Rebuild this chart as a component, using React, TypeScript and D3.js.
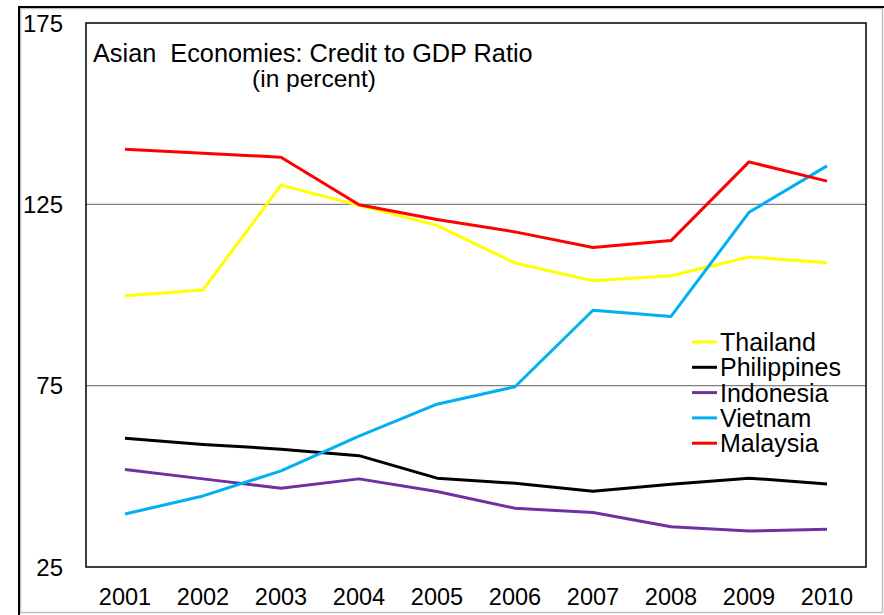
import React from "react";
import * as d3 from "d3";

const years = ["2001", "2002", "2003", "2004", "2005", "2006", "2007", "2008", "2009", "2010"];
const yTicks = [25, 75, 125, 175];
const thailand = [99.8, 101.4, 130.3, 124.7, 119.2, 108.8, 103.9, 105.3, 110.5, 108.9];
const philippines = [60.5, 58.8, 57.5, 55.7, 49.5, 48.1, 45.9, 47.8, 49.5, 47.9];
const indonesia = [51.9, 49.3, 46.7, 49.3, 45.8, 41.2, 40.0, 36.1, 34.9, 35.4];
const vietnam = [39.6, 44.6, 51.5, 61.1, 69.9, 74.7, 95.8, 94.1, 122.8, 135.6];
const malaysia = [140.2, 139.1, 138.0, 124.9, 120.8, 117.4, 113.1, 115.0, 136.7, 131.4];

const seriesNames = ["Thailand", "Philippines", "Indonesia", "Vietnam", "Malaysia"];
const seriesValues = [thailand, philippines, indonesia, vietnam, malaysia];
const seriesColors = ["#FFFF00", "#000000", "#7030A0", "#00B0F0", "#FF0000"];

const W = 884;
const H = 615;
const left = 86, right = 866, top = 23, bottom = 567;
const font = "'Liberation Sans', Arial, Helvetica, sans-serif";

export default function App() {
  const x = d3.scaleBand<string>().domain(years).range([left, right]);
  const y = d3.scaleLinear().domain([25, 175]).range([bottom, top]);
  const line = d3
    .line<number>()
    .x((_, i) => (x(years[i]) as number) + x.bandwidth() / 2)
    .y((d) => y(d));

  const drawOrder = [0, 1, 2, 3, 4];

  return (
    <svg
      width={W}
      height={H}
      style={{ position: "absolute", left: 0, top: 0, background: "#fff" }}
      fontFamily={font}
    >
      <rect x={0} y={0} width={W} height={H} fill="#fff" />
      {/* outer chart frame */}
      <rect x={20.5} y={8.5} width={862} height={604} fill="none" stroke="#bfbfbf" strokeWidth={1.5} />
      <line x1={19} y1={7} x2={884} y2={7} stroke="#000" strokeWidth={2} />
      <line x1={19} y1={6} x2={19} y2={615} stroke="#000" strokeWidth={2} />

      {/* gridlines */}
      {yTicks
        .filter((t) => t !== 25 && t !== 175)
        .map((t) => (
          <line key={t} x1={left} x2={right} y1={y(t)} y2={y(t)} stroke="#808080" strokeWidth={1.2} />
        ))}

      {/* plot border */}
      <rect x={left} y={top} width={right - left} height={bottom - top} fill="none" stroke="#000" strokeWidth={1.5} />

      {/* y tick labels */}
      {yTicks.map((t) => (
        <text key={t} x={63} y={y(t)} dy="0.36em" textAnchor="end" fontSize={24} fill="#000">
          {t}
        </text>
      ))}

      {/* x tick labels */}
      {years.map((yr) => (
        <text
          key={yr}
          x={(x(yr) as number) + x.bandwidth() / 2}
          y={605}
          textAnchor="middle"
          fontSize={23.5}
          fill="#000"
        >
          {yr}
        </text>
      ))}

      {/* lines */}
      {drawOrder.map((i) => (
        <path
          key={seriesNames[i]}
          d={line(seriesValues[i]) || ""}
          fill="none"
          stroke={seriesColors[i]}
          strokeWidth={3}
          strokeLinejoin="round"
        />
      ))}

      {/* title */}
      <text x={93} y={62} fontSize={25.3} fill="#000" xmlSpace="preserve" style={{ whiteSpace: "pre" }}>
        {"Asian  Economies: Credit to GDP Ratio"}
      </text>
      <text x={314} y={87} fontSize={24.5} fill="#000" textAnchor="middle">
        (in percent)
      </text>

      {/* legend */}
      {seriesNames.map((name, i) => {
        const cy = 342 + i * 25.3;
        return (
          <g key={name}>
            <line x1={692} x2={717} y1={cy} y2={cy} stroke={seriesColors[i]} strokeWidth={3} />
            <text x={720} y={cy} dy="0.36em" fontSize={25} fill="#000">
              {name}
            </text>
          </g>
        );
      })}
    </svg>
  );
}
